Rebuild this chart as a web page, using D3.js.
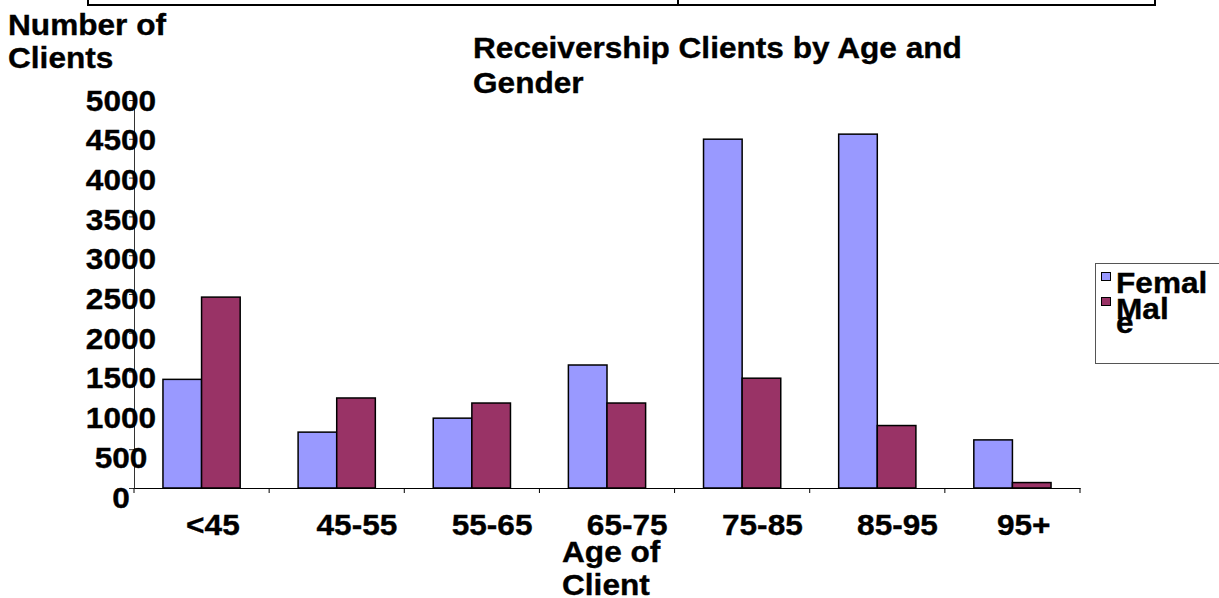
<!DOCTYPE html>
<html><head><meta charset="utf-8">
<script src="https://cdn.jsdelivr.net/npm/d3@7"></script>
<style>
html,body{margin:0;padding:0;background:#fff;}
text{font-family:"Liberation Sans",Arial,sans-serif;font-weight:bold;fill:#000;stroke:#000;stroke-width:0.35px;}
</style></head>
<body>
<svg id="c" width="1219" height="598"></svg>
<script>
const categories = ["<45","45-55","55-65","65-75","75-85","85-95","95+"];
const seriesNames = ["Female","Male"];
const female = [1400, 720, 900, 1585, 4495, 4560, 620];
const male   = [2460, 1160, 1095, 1095, 1415, 805, 70];
const yTicks = [0,500,1000,1500,2000,2500,3000,3500,4000,4500,5000];
const colors = {Female:"#9999FF", Male:"#993366"};

const FS = 29, SX = 1.09;
const svg = d3.select("#c");

function txt(g, s, x, y, anchor){
  return g.append("text")
    .attr("transform", `translate(${x},${y}) scale(${SX},1)`)
    .attr("text-anchor", anchor || "start")
    .style("font-size", FS + "px")
    .text(s);
}

// top frame remnant
svg.append("path").attr("d","M88,0V5H1155V0").attr("fill","none").attr("stroke","#000").attr("stroke-width",2);
svg.append("line").attr("x1",678).attr("x2",678).attr("y1",0).attr("y2",5).attr("stroke","#000").attr("stroke-width",2);

const x = d3.scaleBand().domain(categories).range([134,1080]).paddingInner(0).paddingOuter(0);
const xs = d3.scaleBand().domain(seriesNames).range([0, x.step()]).paddingInner(0).paddingOuter(0.75);
const y = d3.scaleLinear().domain([0,5000]).range([488,100]);
const yLab = d3.scaleLinear().domain([0,5000]).range([497,100]);

// bars
const rows = categories.map((c,i)=>({cat:c, vals:[{s:"Female",v:female[i]},{s:"Male",v:male[i]}]}));
const grp = svg.append("g").selectAll("g").data(rows).join("g")
  .attr("transform", d=>`translate(${x(d.cat)},0)`);
grp.selectAll("rect").data(d=>d.vals).join("rect")
  .attr("x", d=>xs(d.s)).attr("width", xs.bandwidth())
  .attr("y", d=>y(d.v)).attr("height", d=>y(0)-y(d.v))
  .attr("fill", d=>colors[d.s]).attr("stroke","#000").attr("stroke-width",1.5);

// y axis
const ya = svg.append("g").attr("transform","translate(134,0)")
  .call(d3.axisLeft(y).tickValues(yTicks).tickSize(5).tickFormat(""));
ya.selectAll("path,line").attr("stroke","#333").attr("stroke-width",1);

// x axis
const xa = svg.append("g").attr("transform","translate(0,488)")
  .call(d3.axisBottom(x).tickSize(0).tickFormat(""));
xa.select(".domain").attr("stroke","#000").attr("stroke-width",1.2);
const bounds = categories.map(c=>x(c)).concat([x.range()[1]]);
xa.selectAll("line.bt").data(bounds).join("line").attr("class","bt")
  .attr("x1",d=>d).attr("x2",d=>d).attr("y1",0).attr("y2",5).attr("stroke","#000");

// y tick labels
const labG = svg.append("g");
yTicks.forEach(v=>{ txt(labG, String(v), 121, yLab(v)+10.5, "middle"); });

// x tick labels
categories.forEach(c=>{
  const t = txt(svg, c, 0, 535, "middle");
  const w = t.node().getComputedTextLength()*SX;
  const cx = x(c) + x.bandwidth()/2 + 0.327*w - 6.2;
  t.attr("transform", `translate(${cx},535) scale(${SX},1)`);
});

// titles
txt(svg, "Number of", 8, 35);
txt(svg, "Clients", 8, 68);
txt(svg, "Receivership Clients by Age and", 473, 58);
txt(svg, "Gender", 473, 93);
txt(svg, "Age of", 562, 562);
txt(svg, "Client", 562, 595);

// legend
svg.append("rect").attr("x",1095.5).attr("y",263.5).attr("width",200).attr("height",100)
  .attr("fill","#fff").attr("stroke","#555").attr("stroke-width",1);
const lg = [{s:"Female",y:272},{s:"Male",y:297}];
svg.selectAll("rect.sw").data(lg).join("rect").attr("class","sw")
  .attr("x",1101.5).attr("y",d=>d.y+0.5).attr("width",9).attr("height",8)
  .attr("fill",d=>colors[d.s]).attr("stroke","#000").attr("stroke-width",1);
txt(svg, "Femal", 1116, 293);
txt(svg, "e", 1116, 333);
txt(svg, "Mal", 1116, 319);
</script>
</body></html>
